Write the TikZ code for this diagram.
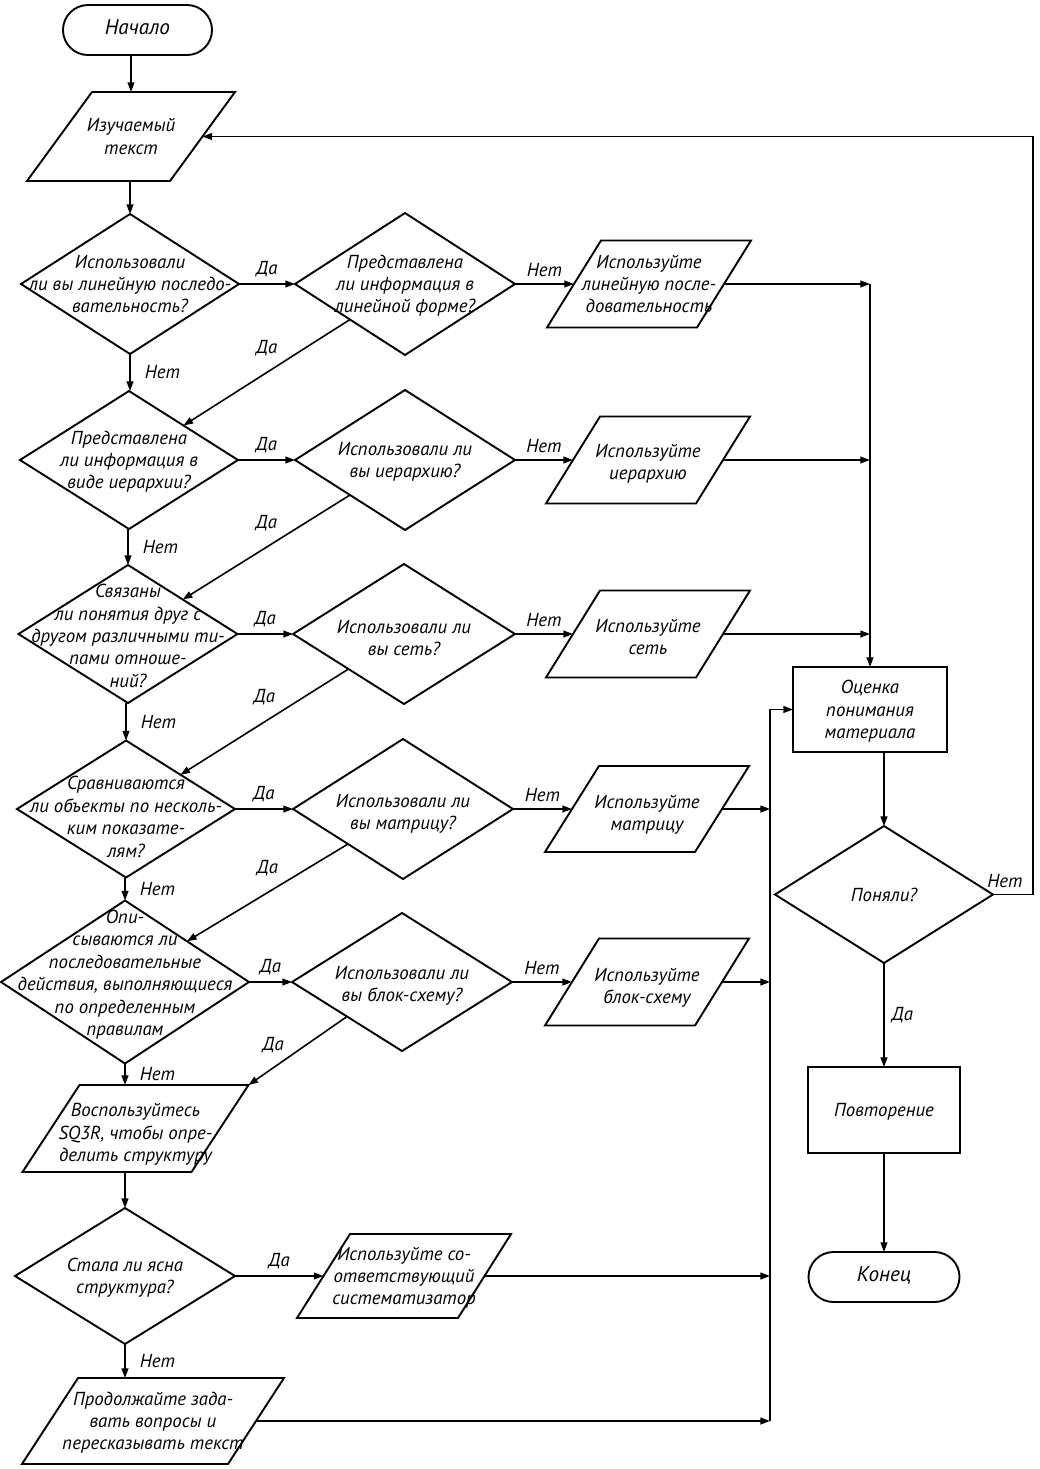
\documentclass[tikz,border=0pt]{standalone}
\usepackage{fontspec}
\newfontfamily\dfont{PT Sans}
\usetikzlibrary{shapes.geometric, arrows.meta, calc}
% centred multi-line text of zero size (the shape keeps its own size)
\newcommand\tx[2][0pt]{\makebox[0pt]{\raisebox{\dimexpr-3.3pt-#1\relax}[0pt][0pt]{\begin{tabular}{@{}c@{}}#2\end{tabular}}}}
% parallelogram: [text offset]{name}{x,y}{edge width}{height}{skew}{text}
\newcommand\para[7][0pt]{%
  \node[pnode, minimum width=#4*0.5pt, minimum height=#5*0.5pt] (#2) at (#3) {\tx[#1]{#7}};
  \coordinate (#2-ne) at ([xshift=#6*0.25pt]#2.north east);
  \draw[shp] ([xshift=#6*0.25pt]#2.north west) -- (#2-ne) -- ([xshift=-#6*0.25pt]#2.south east) -- ([xshift=-#6*0.25pt]#2.south west) -- cycle;
}
\tikzset{
  every node/.style={font=\dfont\itshape\fontsize{9.4}{11.2}\selectfont},
  shp/.style={draw, line width=0.95pt},
  dsize/.style 2 args={minimum width=#1*0.5pt, minimum height=#2*0.5pt},
  dia/.style={shape=diamond, draw, line width=0.95pt, inner sep=0pt, outer sep=0pt},
  bx/.style={rectangle, draw, line width=0.95pt, inner sep=0pt, outer sep=0pt},
  term/.style={rectangle, draw, line width=0.95pt, rounded corners=12.5pt, inner sep=0pt, outer sep=0pt, font=\dfont\itshape\fontsize{10.6}{12}\selectfont},
  pnode/.style={rectangle, inner sep=0pt, outer sep=0pt},
  arr/.style={-{Triangle[length=4.8pt,width=3.4pt]}, line width=0.8pt},
  lblh/.style={midway, above=3pt, inner sep=0pt},
  lblv/.style={midway, right=7pt, inner sep=0pt},
  lbld/.style={midway, above=8pt, inner sep=0pt},
}
\begin{document}
\begin{tikzpicture}[x=0.5pt, y=-0.5pt]
\useasboundingbox (0,0) rectangle (1040,1469);

% ---- nodes ----
\node[term, dsize={149}{50}] (start) at (137.5,30) {\tx[-0.5pt]{Начало}};
\para{pin}{131,136.5}{143}{89}{65}{Изучаемый\\текст}

\node[dia, dsize={218}{140}] (d1) at (130,284) {\tx{Использовали\\ли вы линейную последо-\\вательность?}};
\node[dia, dsize={220}{142}] (d2) at (405,284) {\tx{Представлена\\ли информация в\\линейной форме?}};
\para{p1}{649,284}{150}{87}{54}{Используйте\\линейную после-\\довательность}

\node[dia, dsize={218}{138}] (d3) at (129,460) {\tx{Представлена\\ли информация в\\виде иерархии?}};
\node[dia, dsize={220}{140}] (d4) at (405,460) {\tx{Использовали ли\\вы иерархию?}};
\para[1pt]{p2}{648,460}{150}{87}{54}{Используйте\\иерархию}

\node[dia, dsize={219}{138}] (d5) at (128,634) {\tx[1pt]{Связаны\\ли понятия друг с\\другом различными ти-\\пами отноше-\\ний?}};
\node[dia, dsize={222}{140}] (d6) at (404,634) {\tx[2pt]{Использовали ли\\вы сеть?}};
\para[1.5pt]{p3}{648,634}{150}{87}{54}{Используйте\\сеть}

\node[dia, dsize={218}{137}] (d7) at (126,809) {\tx[4pt]{Сравниваются\\ли объекты по несколь-\\ким показате-\\лям?}};
\node[dia, dsize={220}{140}] (d8) at (403,809) {\tx[1.5pt]{Использовали ли\\вы матрицу?}};
\para[2pt]{p4}{647,809}{150}{86}{54}{Используйте\\матрицу}

\node[dia, dsize={248}{163}] (d9) at (125,982) {\tx[-4.5pt]{Опи-\\сываются ли\\последовательные\\действия, выполняющиеся\\по определенным\\правилам}};
\node[dia, dsize={220}{138}] (d10) at (402,982) {\tx[1pt]{Использовали ли\\вы блок-схему?}};
\para[2pt]{p5}{647,982}{150}{87}{54}{Используйте\\блок-схему}

\para[2pt]{p6}{135.5,1128.5}{169}{87}{57}{Воспользуйтесь\\SQ3R, чтобы опре-\\делить структуру}
\node[dia, dsize={220}{136}] (d11) at (125,1276) {\tx{Стала ли ясна\\структура?}};
\para{p7}{404,1276}{161}{84}{53}{Используйте со-\\ответствующий\\систематизатор}
\para{p8}{153,1421}{206}{86}{56}{Продолжайте зада-\\вать вопросы и\\пересказывать текст}

\node[bx, dsize={154}{85}] (oc) at (870,709.5) {\tx{Оценка\\понимания\\материала}};
\node[dia, dsize={218}{137}] (pon) at (884,894.5) {\tx{Поняли?}};
\node[bx, dsize={152}{86}] (rep) at (884,1110) {\tx{Повторение}};
\node[term, dsize={151}{50}] (kon) at (884,1277) {\tx[-0.5pt]{Конец}};

\coordinate (busx) at (770,0);
\coordinate (loopx) at (1033,0);

% ---- connectors ----
\draw[arr] (start.south -| pin.north) -- (pin.north);
\draw[arr] (d1.north |- pin.south) -- (d1.north);

\draw[arr] (d1.east) -- node[lblh]{Да} (d2.west);
\draw[arr] (d2.east) -- node[lblh]{Нет} (p1.west);
\draw[arr] (d2.south west) -- node[lbld]{Да} (d3.north east);
\draw[arr] (d1.south) -- node[lblv]{Нет} (d1.south |- d3.north);

\draw[arr] (d3.east) -- node[lblh]{Да} (d4.west);
\draw[arr] (d4.east) -- node[lblh]{Нет} (p2.west);
\draw[arr] (d4.south west) -- node[lbld]{Да} (d5.north east);
\draw[arr] (d5.north |- d3.south) -- node[lblv]{Нет} (d5.north);

\draw[arr] (d5.east) -- node[lblh]{Да} (d6.west);
\draw[arr] (d6.east) -- node[lblh]{Нет} (p3.west);
\draw[arr] (d6.south west) -- node[lbld]{Да} (d7.north east);
\draw[arr] (d7.north |- d5.south) -- node[lblv]{Нет} (d7.north);

\draw[arr] (d7.east) -- node[lblh]{Да} (d8.west);
\draw[arr] (d8.east) -- node[lblh]{Нет} (p4.west);
\draw[arr] (d8.south west) -- node[lbld]{Да} (d9.north east);
\draw[arr] (d9.north |- d7.south) -- node[lblv]{Нет} (d9.north);

\draw[arr] (d9.east) -- node[lblh]{Да} (d10.west);
\draw[arr] (d10.east) -- node[lblh]{Нет} (p5.west);
\draw[arr] (d10.south west) -- node[pos=0.75, above=7pt, inner sep=0pt]{Да} (p6-ne);
\draw[arr] (d9.south) -- node[lblv]{Нет} (d9.south |- p6.north);

\draw[arr] (d11.north |- p6.south) -- (d11.north);
\draw[arr] (d11.east) -- node[lblh]{Да} (p7.west);
\draw[arr] (d11.south) -- node[lblv]{Нет} (d11.south |- p8.north);

\draw[arr] (p1.east) -- (p1.east -| oc.north);
\draw[arr] (p1.east -| oc.north) -- (oc.north);
\draw[arr] (p2.east) -- (p2.east -| oc.north);
\draw[arr] (p3.east) -- (p3.east -| oc.north);

\draw[arr] (p4.east) -- (p4.east -| busx);
\draw[arr] (p5.east) -- (p5.east -| busx);
\draw[arr] (p7.east) -- (p7.east -| busx);
\draw[arr] (p8.east) -- (p8.east -| busx);
\draw[arr] (p8.east -| busx) |- (oc.west);

\draw[arr] (pon.north |- oc.south) -- (pon.north);
\draw[arr] (pon.east) -- node[lblh, xshift=-4pt]{Нет} (pon.east -| loopx) |- (pin.east);
\draw[arr] (pon.south) -- node[midway, right=3.5pt, inner sep=0pt]{Да} (rep.north);
\draw[arr] (rep.south) -- (kon.north);
\end{tikzpicture}
\end{document}
